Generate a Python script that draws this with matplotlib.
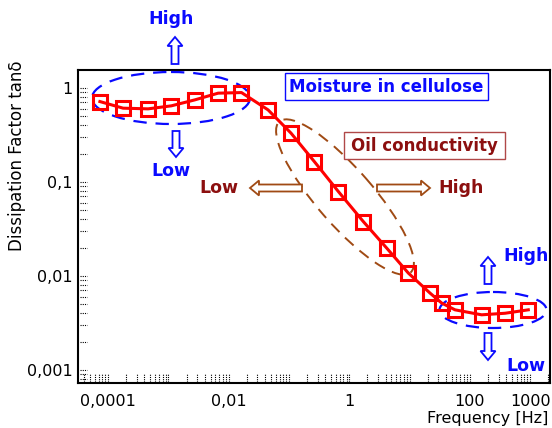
import numpy as np
import matplotlib
matplotlib.use('Agg')
import matplotlib.pyplot as plt
from matplotlib.patches import Ellipse, FancyArrow, Rectangle
from matplotlib.transforms import Affine2D, blended_transform_factory

plt.rcParams['font.family'] = 'DejaVu Sans'

# data
freq = [7.3e-5, 1.77e-4, 4.6e-4, 1.12e-3, 2.74e-3, 6.67e-3, 0.0163, 0.045,
        0.108, 0.264, 0.66, 1.71, 4.19, 9.55, 21.9, 34.2, 56.8, 157, 384, 933]
tan_delta = [0.715, 0.608, 0.598, 0.644, 0.745, 0.878, 0.891, 0.583,
             0.330, 0.164, 0.0788, 0.0378, 0.0197, 0.0107, 0.00655, 0.00513,
             0.00435, 0.00385, 0.0040, 0.00435]

xticks = [1e-4, 1e-2, 1, 100, 1000]
xticklabels = ['0,0001', '0,01', '1', '100', '1000']
yticks = [0.001, 0.01, 0.1, 1]
yticklabels = ['0,001', '0,01', '0,1', '1']

BLUE = '#0a0aff'
DARKRED = '#8c0f0f'
BROWN = '#a04a14'

fig = plt.figure(figsize=(5.52, 4.28), dpi=100)
ax = fig.add_axes([78 / 552, 45 / 428, 472 / 552, 313 / 428])
# image pixel coordinates (y down) for the annotations
px = Affine2D().scale(1 / 100, -1 / 100).translate(0, 4.28) + fig.dpi_scale_trans

ax.set_xscale('log')
ax.set_yscale('log')
ax.set_xlim(10 ** -4.5, 10 ** 3.33)
ax.set_ylim(10 ** -3.14, 10 ** 0.19)

ax.plot(freq, tan_delta, color='red', lw=2.2, zorder=5)
ax.plot(freq, tan_delta, ls='none', marker='s', ms=9.5, mfc='none',
        mec='red', mew=2.2, zorder=6)

ax.set_xticks(xticks)
ax.set_xticklabels(xticklabels)
ax.set_yticks(yticks)
ax.set_yticklabels(yticklabels)
ax.minorticks_off()
ax.tick_params(axis='both', length=0, labelsize=11.5)
ax.tick_params(axis='x', pad=8)
ax.tick_params(axis='y', pad=4)
for s in ax.spines.values():
    s.set_linewidth(1.5)

# dotted little tick marks inside the frame
bx = blended_transform_factory(ax.transData, ax.transAxes)
by = blended_transform_factory(ax.transAxes, ax.transData)
for d in range(-5, 4):
    for k in range(1, 10):
        v = k * 10.0 ** d
        if 10 ** -4.5 < v < 10 ** 3.33:
            ax.plot([v, v], [0.003, 0.028], transform=bx, color='black',
                    lw=0.8, ls=(0, (1, 1)), clip_on=False)
        if 10 ** -3.14 < v < 10 ** 0.19:
            ax.plot([0.004, 0.02], [v, v], transform=by, color='black',
                    lw=0.8, ls=(0, (1, 1)), clip_on=False)

ax.set_ylabel('Dissipation Factor tanδ', fontsize=12)
ax.yaxis.set_label_coords((26 - 78) / 472, (383 - 156) / 313)
fig.text(548, 419, 'Frequency [Hz]', transform=px, fontsize=11.5,
         ha='right', va='center')

# ellipses
ax.add_patch(Ellipse((171, 98), 158, 52, transform=px, fill=False,
                     ec=BLUE, lw=1.6, ls=(0, (6, 4)), clip_on=False, zorder=3))
ax.add_patch(Ellipse((493, 310), 107, 36, transform=px, fill=False,
                     ec=BLUE, lw=1.6, ls=(0, (6, 4)), clip_on=False, zorder=3))
ax.add_patch(Ellipse((345, 197), 200, 56, angle=49, transform=px, fill=False,
                     ec=BROWN, lw=1.4, ls=(0, (6, 4)), clip_on=False, zorder=3))


def hollow_arrow(x, y, dx, dy, color):
    ax.add_patch(FancyArrow(x, y, dx, dy, width=7, head_width=15,
                            head_length=9, length_includes_head=True,
                            transform=px, fc='white', ec=color, lw=1.3,
                            clip_on=False, zorder=4))


def label(x, y, s, color, size=12.5):
    fig.text(x, y, s, transform=px, color=color, fontsize=size,
             fontweight='bold', ha='center', va='center')


# moisture annotations
label(171, 19, 'High', BLUE)
hollow_arrow(175, 64, 0, -27, BLUE)
hollow_arrow(176, 131, 0, 26, BLUE)
label(171, 171, 'Low', BLUE)
label(526, 256, 'High', BLUE)
hollow_arrow(488, 284, 0, -27, BLUE)
hollow_arrow(488, 333, 0, 27, BLUE)
label(526, 366, 'Low', BLUE)

# oil conductivity annotations
label(219, 188, 'Low', DARKRED)
hollow_arrow(302, 188, -52, 0, BROWN)
hollow_arrow(377, 188, 53, 0, BROWN)
label(461, 188, 'High', DARKRED)

# boxed titles
fig.patches.append(Rectangle((285, 73), 203, 27, transform=px, fill=False,
                             ec=BLUE, lw=1.0))
label(386, 87, 'Moisture in cellulose', BLUE, 12)
fig.patches.append(Rectangle((344, 132), 161, 27, transform=px, fill=False,
                             ec='#b04848', lw=1.0))
label(424, 146, 'Oil conductivity', DARKRED, 12)

fig.savefig('out.png', dpi=100)
